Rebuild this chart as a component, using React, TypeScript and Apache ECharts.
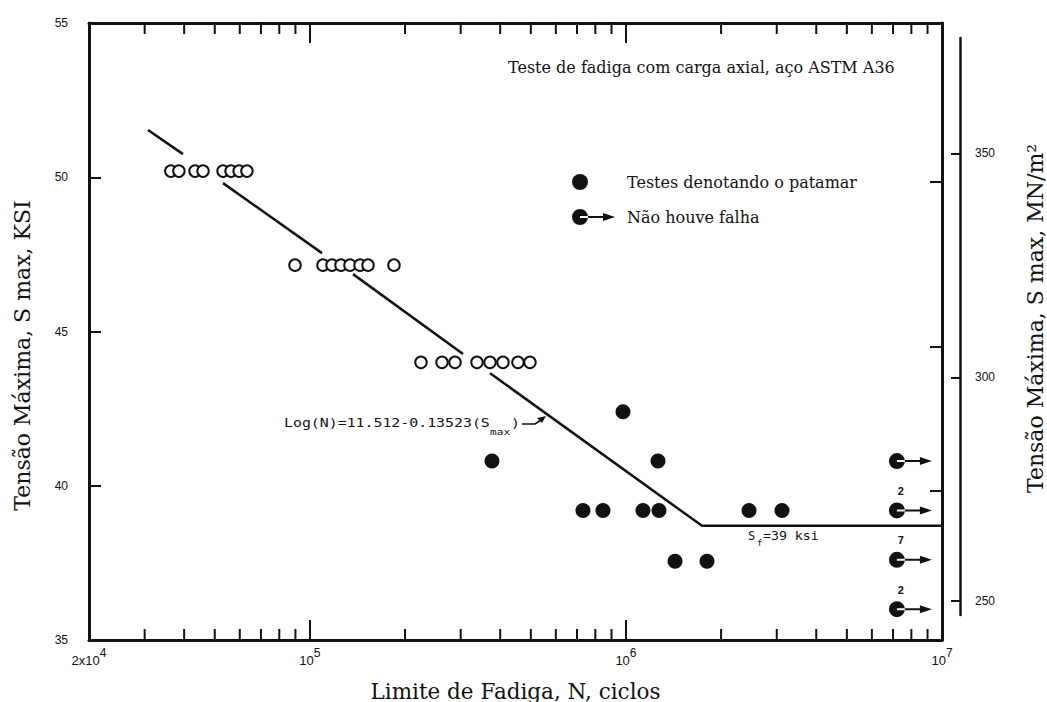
import React, { useEffect, useRef } from "react";
import * as echarts from "echarts";

// ---- data ----
// Open circles (fatigue failures on the sloped part)
const openCycles = [
  36300, 38500, 43300, 45900, 53100, 56300, 59700, 63200,
  89700, 110000, 117500, 125400, 133900, 144100, 152700, 184500,
  224600, 261800, 287800, 337800, 371400, 408200, 455300, 496900,
];
const openStress = [
  50.2, 50.2, 50.2, 50.2, 50.2, 50.2, 50.2, 50.2,
  47.15, 47.15, 47.15, 47.15, 47.15, 47.15, 47.15, 47.15,
  44.0, 44.0, 44.0, 44.0, 44.0, 44.0, 44.0, 44.0,
];
// Filled circles (tests showing the endurance plateau)
const plateauCycles = [376800, 978600, 1263000, 731200, 845800, 1132000, 1272000, 2451000, 3117000, 1430000, 1805000];
const plateauStress = [40.8, 42.4, 40.8, 39.2, 39.2, 39.2, 39.2, 39.2, 39.2, 37.55, 37.55];
// Run-outs (no failure)
const runoutCycles = [7200000, 7200000, 7200000, 7200000];
const runoutStress = [40.8, 39.2, 37.6, 36.0];
const runoutCounts = ["", "2", "7", "2"];
// Fitted S-N line, drawn in pieces (gaps where it crosses the data rows)
const fitSeg1 = [[30740, 51.53], [39670, 50.75]];
const fitSeg2 = [[53100, 49.81], [109200, 47.54]];
const fitSeg3 = [[136900, 46.86], [305100, 44.27]];
const fitSeg4 = [[371400, 43.65], [1740000, 38.7], [10000000, 38.7]];
const fitSegments = [fitSeg1, fitSeg2, fitSeg3, fitSeg4];
// Axes
const xMin = 20000;
const xMax = 10000000;
const minorTickCycles = [
  30000, 40000, 50000, 60000, 70000, 80000, 90000,
  200000, 300000, 400000, 500000, 600000, 700000, 800000, 900000,
  2000000, 3000000, 4000000, 5000000, 6000000, 7000000, 8000000, 9000000,
];
const ksiMin = 35;
const ksiMax = 55;
const ksiInterval = 5;
const rightEdgeTicks = [39.85, 44.5, 49.85];
const mpaMin = 246.9;
const mpaMax = 375.8;
const mpaTicks = [250, 300, 350];

const SERIF = "DejaVu Serif";
const SANS = "Liberation Sans";
const MONO = "DejaVu Sans Mono";
const INK = "#111111";

const dotIcon = "path://M0,0M50,16M0,8a8,8 0 1,0 16,0a8,8 0 1,0 -16,0Z";
const arrowIcon =
  "path://M0,0M50,16M0,8a8,8 0 1,0 16,0a8,8 0 1,0 -16,0Z M8,7 L34,7 L34,9 L8,9Z M31,4 L43,8 L31,12Z";

export default function App() {
  const ref = useRef<HTMLDivElement>(null);

  useEffect(() => {
    if (!ref.current) return;
    const chart = echarts.init(ref.current, null, { renderer: "svg" });

    const logAxisBase = {
      type: "log",
      logBase: 10,
      min: xMin,
      max: xMax,
      splitLine: { show: false },
      axisLine: { show: true, onZero: false, lineStyle: { color: INK, width: 3 } },
      axisTick: { show: true, inside: true, length: 20, lineStyle: { color: INK, width: 2 } },
    };

    const option: any = {
      animation: false,
      backgroundColor: "#ffffff",
      grid: [
        { left: 89, right: 105, top: 23, bottom: 62, containLabel: false, outerBoundsMode: "none" },
        { left: 959, width: 1, top: 38, height: 577, containLabel: false, outerBoundsMode: "none" },
      ],
      xAxis: [
        {
          ...logAxisBase,
          gridIndex: 0,
          position: "bottom",
          name: "Limite de Fadiga, N, ciclos",
          nameLocation: "middle",
          nameGap: 40,
          nameTextStyle: { fontFamily: SERIF, fontSize: 21.5, color: INK },
          axisLabel: {
            show: true,
            margin: 7,
            showMinLabel: true,
            showMaxLabel: true,
            formatter: (v: number) => {
              if (v < 50000) return "{n|2x10}{p|4}";
              return "{n|10}{p|" + Math.round(Math.log10(v)) + "}";
            },
            rich: {
              n: { fontFamily: SANS, fontSize: 13, color: INK },
              p: { fontFamily: SANS, fontSize: 12, color: INK, padding: [0, 0, 14, 0] },
            },
          },
        },
        {
          ...logAxisBase,
          gridIndex: 0,
          position: "top",
          axisLabel: { show: false },
        },
        {
          type: "value",
          gridIndex: 1,
          show: false,
          min: 0,
          max: 1,
        },
      ],
      yAxis: [
        {
          type: "value",
          gridIndex: 0,
          position: "left",
          min: ksiMin,
          max: ksiMax,
          interval: ksiInterval,
          splitLine: { show: false },
          axisLine: { show: true, onZero: false, lineStyle: { color: INK, width: 3 } },
          axisTick: { show: true, inside: true, length: 12, lineStyle: { color: INK, width: 2 } },
          axisLabel: { margin: 21, fontFamily: SANS, fontSize: 12, color: INK },
          name: "Tensão Máxima, S max, KSI",
          nameLocation: "middle",
          nameRotate: 90,
          nameGap: 56,
          nameTextStyle: { fontFamily: SERIF, fontSize: 22, color: INK, padding: [0, 48, 0, 0] },
        },
        {
          type: "value",
          gridIndex: 0,
          position: "right",
          min: ksiMin,
          max: ksiMax,
          splitLine: { show: false },
          axisLine: { show: true, onZero: false, lineStyle: { color: INK, width: 3 } },
          axisTick: { show: true, inside: true, length: 12, customValues: rightEdgeTicks, lineStyle: { color: INK, width: 2 } },
          axisLabel: { show: false },
        },
        {
          type: "value",
          gridIndex: 1,
          position: "right",
          min: mpaMin,
          max: mpaMax,
          splitLine: { show: false },
          axisLine: { show: true, onZero: false, lineStyle: { color: INK, width: 2.5 } },
          axisTick: { show: true, inside: true, length: 9, customValues: mpaTicks, lineStyle: { color: INK, width: 2 } },
          axisLabel: { show: true, margin: 15, customValues: mpaTicks, fontFamily: SANS, fontSize: 12, color: INK },
          name: "Tensão Máxima, S max, MN/m²",
          nameLocation: "middle",
          nameRotate: 90,
          nameGap: 64,
          nameTextStyle: { fontFamily: SERIF, fontSize: 22, color: INK, padding: [0, 0, 0, 16] },
        },
      ],
      legend: {
        show: true,
        orient: "vertical",
        left: 567,
        top: 169,
        itemWidth: 50,
        itemHeight: 16,
        itemGap: 19,
        selectedMode: false,
        textStyle: { fontFamily: SERIF, fontSize: 16, color: INK },
        data: [
          { name: "Testes denotando o patamar", icon: dotIcon },
          { name: "Não houve falha", icon: arrowIcon },
        ],
      },
      graphic: [
        {
          type: "text",
          x: 508,
          y: 67,
          style: {
            text: "Teste de fadiga com carga axial, aço ASTM A36",
            fontFamily: SERIF,
            fontSize: 16,
            fill: INK,
            verticalAlign: "middle",
          },
        },
        {
          type: "text",
          x: 284,
          y: 423,
          scaleX: 1.24,
          style: { text: "Log(N)=11.512-0.13523(S", fontFamily: MONO, fontSize: 12, fill: INK, verticalAlign: "middle" },
        },
        {
          type: "text",
          x: 490,
          y: 432,
          scaleX: 1.24,
          style: { text: "max", fontFamily: MONO, fontSize: 9, fill: INK, verticalAlign: "middle" },
        },
        {
          type: "text",
          x: 511,
          y: 423,
          scaleX: 1.24,
          style: { text: ")", fontFamily: MONO, fontSize: 12, fill: INK, verticalAlign: "middle" },
        },
        {
          type: "polyline",
          shape: { points: [[522, 424], [535, 424], [541, 420]] },
          style: { stroke: INK, lineWidth: 1.6, fill: null },
        },
        {
          type: "polygon",
          shape: { points: [[546, 416], [537, 418], [542, 423]] },
          style: { fill: INK },
        },
        {
          type: "text",
          x: 748,
          y: 536,
          style: { text: "S", fontFamily: MONO, fontSize: 12, fill: INK, verticalAlign: "middle" },
        },
        {
          type: "text",
          x: 757,
          y: 543,
          style: { text: "f", fontFamily: MONO, fontSize: 9, fill: INK, verticalAlign: "middle" },
        },
        {
          type: "text",
          x: 763,
          y: 536,
          scaleX: 1.1,
          style: { text: "=39 ksi", fontFamily: MONO, fontSize: 12, fill: INK, verticalAlign: "middle" },
        },
      ],
      series: [
        // minor ticks on bottom and top frame
        {
          type: "custom",
          xAxisIndex: 0,
          yAxisIndex: 0,
          silent: true,
          data: minorTickCycles.map((v) => [v, ksiMin]),
          renderItem: (params: any, api: any) => {
            const v = api.value(0);
            const pb = api.coord([v, ksiMin]);
            const pt = api.coord([v, ksiMax]);
            return {
              type: "group",
              children: [
                { type: "line", shape: { x1: pb[0], y1: pb[1], x2: pb[0], y2: pb[1] - 11 }, style: { stroke: INK, lineWidth: 2 } },
                { type: "line", shape: { x1: pt[0], y1: pt[1], x2: pt[0], y2: pt[1] + 11 }, style: { stroke: INK, lineWidth: 2 } },
              ],
            };
          },
        },
        ...fitSegments.map((seg) => ({
          type: "line",
          xAxisIndex: 0,
          yAxisIndex: 0,
          data: seg,
          symbol: "none",
          silent: true,
          lineStyle: { color: INK, width: 2.5 },
        })),
        {
          type: "scatter",
          name: "Ensaios com falha",
          xAxisIndex: 0,
          yAxisIndex: 0,
          symbol: "circle",
          symbolSize: 11.5,
          itemStyle: { color: "#ffffff", borderColor: INK, borderWidth: 2, opacity: 1 },
          data: openCycles.map((c, i) => [c, openStress[i]]),
        },
        {
          type: "scatter",
          name: "Testes denotando o patamar",
          xAxisIndex: 0,
          yAxisIndex: 0,
          symbol: "circle",
          symbolSize: 15,
          itemStyle: { color: INK, opacity: 1 },
          data: plateauCycles.map((c, i) => [c, plateauStress[i]]),
        },
        {
          type: "scatter",
          name: "Não houve falha",
          xAxisIndex: 0,
          yAxisIndex: 0,
          symbol: arrowIcon,
          symbolSize: [50, 16],
          symbolOffset: [17, 0],
          itemStyle: { color: INK, opacity: 1 },
          label: {
            show: true,
            position: "top",
            offset: [-13, -1],
            fontFamily: SANS,
            fontWeight: "bold",
            fontSize: 11,
            color: INK,
            formatter: (p: any) => runoutCounts[p.dataIndex],
          },
          data: runoutCycles.map((c, i) => [c, runoutStress[i]]),
        },
        {
          type: "line",
          xAxisIndex: 2,
          yAxisIndex: 2,
          data: [],
          silent: true,
        },
      ],
    };

    chart.setOption(option);
    return () => chart.dispose();
  }, []);

  return (
    <div
      ref={ref}
      style={{ position: "absolute", left: 0, top: 0, width: 1047, height: 702, background: "#fff" }}
    />
  );
}
